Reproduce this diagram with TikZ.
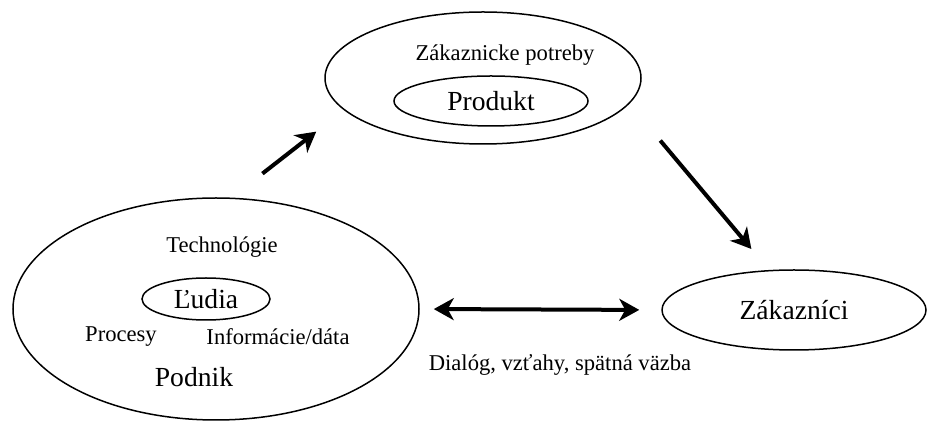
\documentclass[tikz,border=0pt]{standalone}
\usepackage{fontspec}
\setmainfont{Liberation Serif}
\usetikzlibrary{shapes.geometric,arrows.meta}

\providecommand*{\bigFont}{}
\providecommand*{\smallFont}{}
\renewcommand*{\bigFont}{\fontsize{13.8}{16}\selectfont}
\renewcommand*{\smallFont}{\fontsize{11.3}{13}\selectfont}

\begin{document}
\begin{tikzpicture}[x=0.5pt,y=-0.5pt,
    oval/.style={draw,ellipse,line width=0.75pt,inner sep=0pt},
    bigtext/.style={font=\bigFont,inner sep=0pt},
    smalltext/.style={font=\smallFont,inner sep=0pt},
    tip/.tip={Stealth[length=10pt,width=11pt,inset=3pt]},
    bigarrow/.style={line width=2pt,-tip}]
  \useasboundingbox (0,0) rectangle (941,421);
  % top: needs and product
  \node [oval,minimum width=158pt,minimum height=66pt] (needs) at (483,78) {};
  \node [smalltext] (needsText) at (505,55) {Zákaznicke potreby};
  \node [oval,bigtext,minimum width=97pt,minimum height=25pt] (product) at (491,101) {Produkt};
  % company
  \node [oval,minimum width=203pt,minimum height=111pt] (company) at (216,309) {};
  \node [smalltext] (tech) at (222,247) {Technológie};
  \node [oval,bigtext,minimum width=64pt,minimum height=21pt] (people) at (206,299) {Ľudia};
  \node [smalltext] (processes) at (121,337) {Procesy};
  \node [smalltext] (info) at (278,337) {Informácie/dáta};
  \node [bigtext] (companyText) at (194,377) {Podnik};
  % customers
  \node [oval,bigtext,minimum width=132pt,minimum height=40pt] (customers) at (794,310) {Zákazníci};
  \node [smalltext] (dialog) at (560,365) {Dialóg, vzťahy, spätná väzba};
  % arrows
  \draw [bigarrow,shorten <=19.5pt,shorten >=17.5pt] (company.82) -- (needs.193);
  \draw [bigarrow,shorten <=24pt,shorten >=13.7pt] (needs.350) -- (customers.122);
  \draw [bigarrow,tip-tip,shorten <=7pt,shorten >=11pt] (company.east) -- (customers.west);
\end{tikzpicture}
\end{document}
